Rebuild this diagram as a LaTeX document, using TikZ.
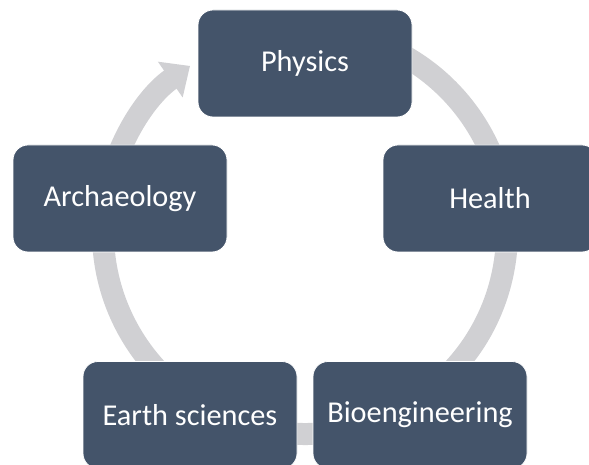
\documentclass[tikz,border=0pt]{standalone}
\usepackage{fontspec}
\setmainfont{Carlito}
\usetikzlibrary{arrows.meta}
\definecolor{boxblue}{HTML}{44546A}
\definecolor{ringgrey}{HTML}{D0D0D3}
\begin{document}
\begin{tikzpicture}[x=1pt,y=1pt,
    field/.style={rectangle, rounded corners=15pt, fill=boxblue, draw=white, line width=0.8pt,
        minimum width=214pt, minimum height=107pt, text=white,
        font=\fontsize{30.3}{35}\selectfont},
    cycle/.style={ringgrey, line width=22pt, -{Triangle[width=42pt,length=24pt]}}]
    \useasboundingbox (0,0) rectangle (589,465);
    \coordinate (c) at (305,233);

    % Draw the cycle behind the boxes
    \draw [cycle] ([shift={(80:202)}]c) arc (80:-235.3:202);

    % Draw the fields
    \node [field] (physics) at (305,401.5) {Physics};
    \node [field] (health) at (490,266.5) {Health};
    \node [field] (bio) at (420,50) {Bioengineering};
    \node [field] (earth) at (190,50) {Earth sciences};
    \node [field] (arch) at (120,266.5) {Archaeology};
\end{tikzpicture}
\end{document}
